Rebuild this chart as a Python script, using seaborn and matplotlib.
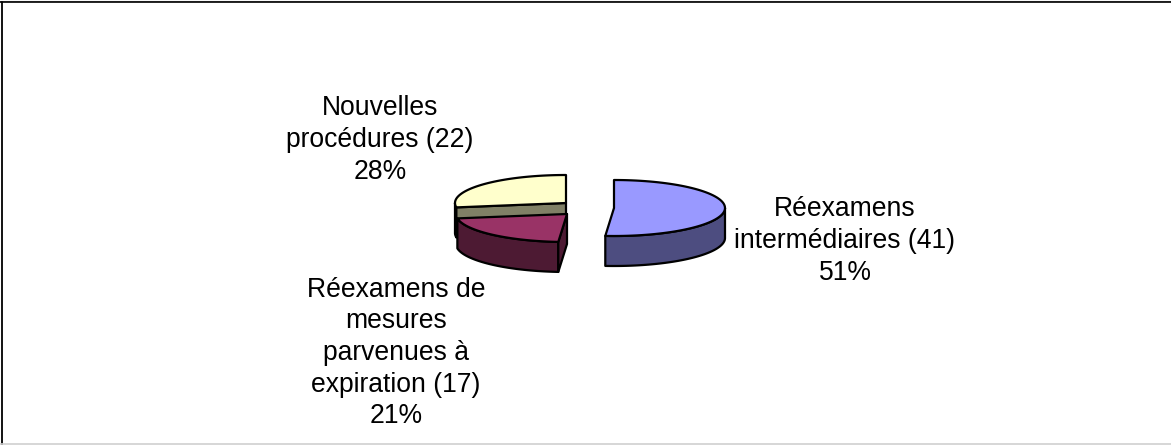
import numpy as np
import matplotlib
matplotlib.use("Agg")
import matplotlib.pyplot as plt
from matplotlib.patches import Polygon
import seaborn as sns

labels = ['Réexamens\nintermédiaires (41)\n51%',
          'Réexamens de\nmesures\nparvenues à\nexpiration (17)\n21%',
          'Nouvelles\nprocédures (22)\n28%']
counts = [41, 17, 22]
top_colors = ['#9999FF', '#993366', '#FFFFCC']
side_colors = ['#4D4D80', '#4D1A33', '#808066']

# pie geometry in pixels, the slices are pulled out by hand
centers = [(614, 208), (567, 214), (566, 203)]
label_pos = [(845, 241), (396, 353), (380, 140)]
# only the start edge of these slices has a visible cut face
show_cut = [False, True, True]
rx, ry, depth = 111, 28, 30
line = 1.6

sns.set_theme(style="white")
plt.rcParams['font.family'] = ['Liberation Sans', 'DejaVu Sans']

fig, ax = plt.subplots(figsize=(11.71, 4.45), dpi=100)
fig.subplots_adjust(0, 0, 1, 1)
ax.set_xlim(0, 1171)
ax.set_ylim(445, 0)
ax.axis('off')
ax.plot([0, 1171], [1.2, 1.2], color='#b0b0b0', lw=0.8)
ax.plot([2.2, 2.2], [445, 2.2], color='black', lw=1.3)
ax.plot([0, 1171], [2.4, 2.4], color='black', lw=1.2)
ax.plot([0, 1171], [444.3, 444.3], color='#d0d0d0', lw=1.2)


def arc(cx, cy, a0, a1):
    # angles clockwise from 12 o'clock
    t = np.radians(np.linspace(a0, a1, 80))
    return np.column_stack([cx + rx * np.sin(t), cy - ry * np.cos(t)])


def draw_slice(i, a0, a1):
    cx, cy = centers[i]
    top = arc(cx, cy, a0, a1)
    down = np.array([0, depth])
    c = np.array([cx, cy])
    kw = dict(ec='black', lw=line, joinstyle='round')
    # outer wall, only the front half of the ellipse shows
    f0, f1 = max(a0, 90), min(a1, 270)
    if f1 > f0:
        wall = arc(cx, cy, f0, f1)
        ax.add_patch(Polygon(np.vstack([wall, (wall + down)[::-1]]),
                             fc=side_colors[i], **kw))
    if show_cut[i]:
        ax.add_patch(Polygon([c, top[0], top[0] + down, c + down],
                             fc=side_colors[i], **kw))
    ax.add_patch(Polygon(np.vstack([c, top]), fc=top_colors[i], **kw))


angles = np.cumsum([0] + counts) / sum(counts) * 360
# back to front
draw_slice(2, angles[2], angles[3])
draw_slice(1, angles[1], angles[2])
draw_slice(0, angles[0], angles[1])

for txt, (x, y) in zip(labels, label_pos):
    ax.text(x, y, txt, ha='center', va='center', fontsize=19.1,
            color='black', linespacing=1.28)

fig.savefig('out.png', dpi=100)
